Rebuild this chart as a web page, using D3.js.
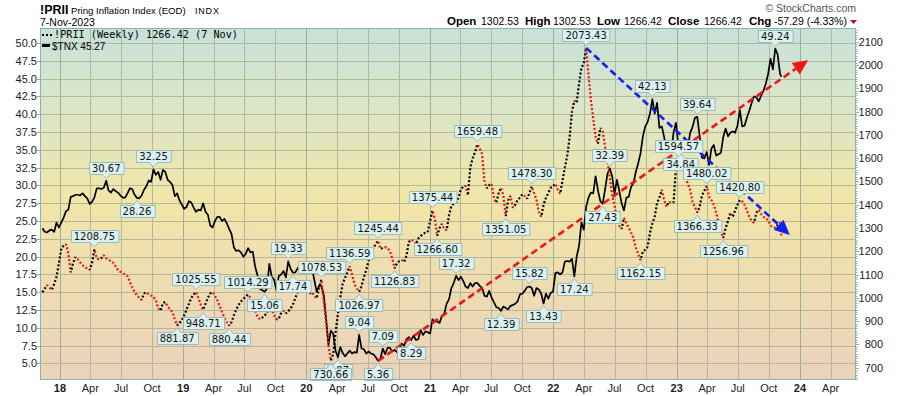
<!DOCTYPE html>
<html><head><meta charset="utf-8">
<script src="https://cdn.jsdelivr.net/npm/d3@7"></script>
<style>
body{margin:0;background:#fff;}
svg{display:block;font-family:"Liberation Sans",Arial,sans-serif;}
</style></head>
<body><svg id="c" width="900" height="396"></svg>
<script>
// ---------- DATA ----------
const firstWeek = "2017-11-10";      // weekly closes (Fridays)
const lastDate = "2023-11-07";       // last (partial) week
// !PRII weekly (right axis)
const prii = [
 1024,1040,1055,1045,1034,1060,1090,1150,1210,1225,
 1231,1190,1110,1150,1176,1165,1152,1140,1133,1125,
 1120,1149,1208.75,1170,1165,1171,1184,1170,1163,1158,
 1152,1135,1120,1112,1107,1100,1094,1070,1045,1025,
 1012,1000,991,1020,1024,1015,1010,1005,990,955,
 945,978,982,963,950,940,910,881.87,892,905,
 925,950,975,1000,1015,1025.55,1000,970,948.71,975,
 1000,1020,1025,1010,990,965,940,915,895,880.44,
 895,925,950,970,985,995,1005,1014.29,1000,975,
 945,920,908,915,925,933,972,950,925,908,
 910,935,945,933,942,955,972,1000,1025,1036,
 1040,1035,1025,1019,1025,1010,998,1040,1078.53,985,
 900,800,730.66,760,850,931,1000,1060,1085,1110,
 1136.59,1100,1060,1040,1026.97,1050,1090,1120,1160,1190,
 1215,1230,1245.44,1210,1215,1218,1214,1200,1170,1126.83,
 1150,1158,1163,1154,1180,1240,1250,1245,1230,1255,
 1265,1275,1280,1283,1330,1375.44,1340,1266.60,1300,1318,
 1295,1290,1355,1395,1405,1408,1430,1465,1478,1481,
 1440,1560,1600,1625,1659.48,1640,1619,1500,1470,1485,
 1490,1430,1408,1450,1473,1440,1351.05,1420,1438,1387,
 1400,1420,1430,1445,1438,1425,1450,1478.30,1450,1421,
 1370,1348,1400,1430,1450,1473,1480,1490,1465,1447,
 1503,1560,1610,1688,1800,1847,1838,1920,1988,2006,
 2073.43,1960,1850,1770,1690,1662,1730,1717,1650,1589,
 1516,1440,1400,1331,1310,1296,1344,1320,1301,1280,
 1258,1215,1190,1162.15,1200,1206,1219,1280,1320,1348,
 1408,1430,1464,1420,1391,1413,1408,1410,1560,1594.57,
 1585,1562,1520,1490,1464,1413,1390,1366.33,1391,1440,
 1460,1480.02,1434,1420,1400,1366,1320,1290,1256.96,1300,
 1330,1366,1348,1375,1400,1420.80,1415,1400,1375,1348,
 1330,1322,1366,1378,1360,1348,1340,1335,1310,1305,
 1300,1313,1323.71,1266.42
];
// $TNX weekly (left axis), by year
const tnx2017 = [24.0,23.5,23.4,23.7,23.8,23.5,24.8,24.1];
const tnx2018 = [24.8,25.5,26.4,26.6, 28.4,28.5,28.7,28.7, 28.6,28.9,28.5,28.2,27.4, 27.7,28.3,29.6,29.6,
 29.5,29.7,30.67,29.3, 29.0,29.5,29.2,29.0,28.6, 28.3,28.3,28.9,29.6, 29.5,28.7,28.26,28.2,28.6,
 29.4,29.9,30.7,30.5, 32.25,31.5,31.9,30.8, 32.2,31.9,30.8,30.5,30.1, 28.5,28.9,27.9,27.3];
const tnx2019 = [26.7,27.0,27.8,27.6, 26.9,26.3,26.6,26.5, 27.5,26.3,25.9,24.4,24.1, 25.0,25.6,25.6,25.0,
 25.3,24.7,23.9,23.2,21.3, 20.8,20.9,20.6,20.0, 20.4,21.2,20.6,20.7, 18.6,17.4,15.5,15.3,15.06,
 15.5,19.0,17.2,16.8, 15.3,17.3,17.5,18.0, 17.1,19.33,18.3,17.74,17.8, 18.4,18.2,19.2,18.8];
const tnx2020 = [18.0,18.2,18.4,16.8,15.1, 15.9,15.9,14.7,11.3, 7.6,9.6,9.2,6.8, 5.87,7.3,6.5,6.0,
 6.4,6.8,6.4,6.6,6.5, 9.04,7.1,7.0,6.4, 6.7,6.4,6.3,5.9,5.36, 5.7,7.09,6.3,7.2,
 7.2,6.7,6.9,6.6, 7.0,7.8,7.5,8.4,8.7, 8.29,8.9,8.3,8.4, 9.7,9.0,9.5,9.4];
const tnx2021 = [9.2,11.2,10.9,10.9,10.7, 11.7,12.0,13.4,14.0, 15.6,16.3,17.32,16.7, 17.2,16.6,15.8,15.6,16.3,
 15.8,16.3,16.3,15.9, 15.6,14.5,14.4,15.2, 14.3,13.6,12.9,12.8,12.39, 13.0,12.8,12.6,13.1,
 13.2,13.4,13.7,14.7, 14.8,15.2,15.7,15.82,15.6, 14.5,15.6,15.4,14.8, 13.43,14.8,14.1,14.9,15.1];
const tnx2022 = [17.7,17.8,17.5,17.8, 19.3,19.4,19.3,19.7, 17.24,20.0,21.5,24.8, 23.8,27.0,28.3,29.0,28.9,
 31.3,29.3,27.8,27.43, 29.4,31.6,32.39,31.3, 28.8,30.8,29.3,27.5,26.5, 28.3,28.4,29.8,30.3,
 31.9,33.1,34.5,36.9,38.3, 38.9,40.1,42.13,40.1, 41.6,38.1,38.3,36.8, 34.9,35.8,34.8,37.5,38.8];
const tnx2023 = [35.6,34.84,34.8,35.1, 35.3,37.4,38.2,39.5, 39.64,37.0,33.9,33.8,34.7, 32.9,35.2,35.7,34.2,
 34.4,34.6,36.8,38.0, 36.9,37.4,37.6,37.4,38.4, 40.6,38.3,38.4,39.5, 40.5,41.6,42.5,42.4,
 41.8,42.6,43.3,44.3,45.7, 47.8,46.3,49.24,48.4, 45.7,45.27];

// annotation callouts: [date, position]
const tnxNotes = [
 ["2018-05-18","above"],["2018-10-05","above"],["2018-08-17","below"],["2019-11-08","above"],
 ["2019-08-30","below"],["2019-11-22","below"],["2020-04-03","below"],["2020-06-05","above"],["2020-07-31","below"],
 ["2020-08-14","above"],["2020-11-06","below"],["2021-03-19","above"],["2021-07-30","below"],
 ["2021-10-22","above"],["2021-12-03","below"],["2022-03-04","below"],["2022-05-27","below"],
 ["2022-06-17","above"],["2022-10-21","above"],["2023-01-13","below"],["2023-03-03","above"],
 ["2023-10-20","above"]
];
const priiNotes = [
 ["2018-04-13","above"],["2018-12-14","below"],["2019-02-08","above"],["2019-03-01","below"],
 ["2019-05-17","below"],["2019-07-12","above"],["2020-02-14","above"],["2020-03-13","below"],
 ["2020-05-08","above"],["2020-06-05","below"],["2020-07-31","above"],["2020-09-18","below"],
 ["2021-01-08","above"],["2021-01-22","below"],["2021-05-21","above"],["2021-08-13","below"],
 ["2021-10-29","above"],["2022-04-08","above"],["2022-09-16","below"],["2023-01-06","above"],
 ["2023-03-03","below"],["2023-03-31","above"],["2023-05-19","below"],["2023-07-07","above"]
];
// hand-drawn trend lines
const redTrendDates = ["2020-07-31","2024-01-25"], redTrendTnx = [5.36, 47.6];
const blueTrendDates = ["2022-04-08","2023-12-02"], blueTrendPrii = [2073.43, 1270];

const leftTicks = [5,7.5,10,12.5,15,17.5,20,22.5,25,27.5,30,32.5,35,37.5,40,42.5,45,47.5,50];
const rightTicks = [700,800,900,1000,1100,1200,1300,1400,1500,1600,1700,1800,1900,2000,2100];
const monthNames = ["Jan","Feb","Mar","Apr","May","Jun","Jul","Aug","Sep","Oct","Nov","Dec"];
const header = {open:"1302.53", high:"1302.53", low:"1266.42", close:"1266.42", chg:"-57.29 (-4.33%)"};

// ---------- BUILD ----------
const tnx = [].concat(tnx2017,tnx2018,tnx2019,tnx2020,tnx2021,tnx2022,tnx2023);
const WEEK = 7*864e5;
const t0 = new Date(firstWeek+"T00:00:00Z").getTime();
const dates = prii.map((d,i)=> i===prii.length-1 ? new Date(lastDate+"T00:00:00Z") : new Date(t0+i*WEEK));
const idxOf = s => Math.round((new Date(s+"T00:00:00Z").getTime()-t0)/WEEK);

const L=40,R=856,T=28,B=380;
const x = d3.scaleUtc().domain([new Date(Date.UTC(2017,10,3)), new Date(Date.UTC(2024,5,15))]).range([L,R]);
const yL = d3.scaleLinear().domain([2.68,52.12]).range([B,T]);
const yR = d3.scaleLinear().domain([647.5,2158.8]).range([B,T]);

const svg = d3.select("#c");
const defs = svg.append("defs");
const grad = defs.append("linearGradient").attr("id","bg").attr("x1",0).attr("y1",0).attr("x2",0).attr("y2",1);
[[0,"#c6e2db"],[0.22,"#dbe5c8"],[0.48,"#f1e6a8"],[0.75,"#eedbb2"],[1,"#ebd2bc"]].forEach(s=>
  grad.append("stop").attr("offset",s[0]).attr("stop-color",s[1]));
defs.append("clipPath").attr("id","clip").append("rect").attr("x",L).attr("y",T).attr("width",R-L).attr("height",B-T);

svg.append("rect").attr("x",L).attr("y",T).attr("width",R-L).attr("height",B-T).attr("fill","url(#bg)");

// grid
const grid = svg.append("g").attr("clip-path","url(#clip)");
leftTicks.forEach(v=>grid.append("line").attr("x1",L).attr("x2",R).attr("y1",Math.round(yL(v))+0.5).attr("y2",Math.round(yL(v))+0.5)
  .attr("stroke","#b4b89b").attr("stroke-width",1));
const qTicks = d3.utcMonth.every(3).range(new Date(Date.UTC(2018,0,1)), new Date(Date.UTC(2024,5,15)));
qTicks.forEach(d=>grid.append("line").attr("x1",Math.round(x(d))+0.5).attr("x2",Math.round(x(d))+0.5).attr("y1",T).attr("y2",B)
  .attr("stroke", d.getUTCMonth()===0 ? "#9fae94" : "#b4b89b").attr("stroke-width",1));

const plot = svg.append("g").attr("clip-path","url(#clip)");
// TNX solid line
plot.append("path").datum(tnx).attr("fill","none").attr("stroke","#000").attr("stroke-width",1.7)
  .attr("stroke-linejoin","round")
  .attr("d", d3.line().x((d,i)=>x(dates[i])).y(d=>yL(d)));
// PRII dotted line, black up / red down
let cum=0;
for(let i=1;i<prii.length;i++){
  const x0=x(dates[i-1]),y0=yR(prii[i-1]),x1=x(dates[i]),y1=yR(prii[i]);
  const len=Math.hypot(x1-x0,y1-y0);
  plot.append("line").attr("x1",x0).attr("y1",y0).attr("x2",x1).attr("y2",y1)
    .attr("stroke", prii[i]>=prii[i-1] ? "#000" : "#ee1111").attr("stroke-width",2.2)
    .attr("stroke-dasharray","2,2").attr("stroke-dashoffset", cum%4);
  cum+=len;
}

// trend lines with arrow heads
function trend(ds, vs, scale, color){
  const p0=[x(new Date(ds[0]+"T00:00:00Z")), scale(vs[0])];
  const p1=[x(new Date(ds[1]+"T00:00:00Z")), scale(vs[1])];
  const ang=Math.atan2(p1[1]-p0[1],p1[0]-p0[0]);
  const hl=15, hw=7;
  const bx=p1[0]-hl*Math.cos(ang), by=p1[1]-hl*Math.sin(ang);
  svg.append("line").attr("x1",p0[0]).attr("y1",p0[1]).attr("x2",bx).attr("y2",by)
    .attr("stroke",color).attr("stroke-width",2.6).attr("stroke-dasharray","7,4");
  svg.append("path").attr("d",`M${p1[0]},${p1[1]}L${bx+hw*Math.sin(ang)},${by-hw*Math.cos(ang)}L${bx-hw*Math.sin(ang)},${by+hw*Math.cos(ang)}Z`)
    .attr("fill",color);
}
trend(redTrendDates, redTrendTnx, yL, "#f01414");
trend(blueTrendDates, blueTrendPrii, yR, "#1020f0");

// callouts
const notesG = svg.append("g");
function callout(px,py,txt,pos){
  const g=notesG.append("g");
  const t=g.append("text").text(txt).attr("font-size",10).attr("font-family","'DejaVu Sans',Verdana,sans-serif")
    .attr("text-anchor","middle").attr("fill","#111");
  const w=t.node().getComputedTextLength()+6, h=12;
  const bx=Math.round(px-w/2)+0.5;
  const above = pos==="above";
  const by = above ? Math.round(py-7-h)+0.5 : Math.round(py+7)+0.5;
  let d;
  if(above){
    d=`M${bx},${by}h${w}v${h}H${px+4}L${px},${py-2.5}L${px-4},${by+h}H${bx}Z`;
  } else {
    d=`M${bx},${by}H${px-4}L${px},${py+2.5}L${px+4},${by}H${bx+w}v${h}H${bx}Z`;
  }
  g.insert("path","text").attr("d",d).attr("fill","#dcf1ef").attr("stroke","#98bcbc").attr("stroke-width",1);
  t.attr("x",px).attr("y",by+h/2+3.6);
}
tnxNotes.forEach(n=>{const i=idxOf(n[0]); callout(x(dates[i]),yL(tnx[i]),tnx[i].toFixed(2),n[1]);});
priiNotes.forEach(n=>{const i=idxOf(n[0]); callout(x(dates[i]),yR(prii[i]),prii[i].toFixed(2),n[1]);});

// frame
svg.append("rect").attr("x",L+0.5).attr("y",T+0.5).attr("width",R-L-1).attr("height",B-T-1)
  .attr("fill","none").attr("stroke","#8fb0b2").attr("stroke-width",1);

// left axis
const la=svg.append("g");
leftTicks.forEach(v=>{
  const y=Math.round(yL(v))+0.5;
  la.append("line").attr("x1",L-3).attr("x2",L).attr("y1",y).attr("y2",y).attr("stroke","#8fb0b2");
  la.append("text").attr("x",L-3).attr("y",y+3.8).attr("text-anchor","end").attr("font-size",11).attr("fill","#222").text(v.toFixed(1));
});
// right axis
const ra=svg.append("g");
d3.range(650,2160,10).forEach(v=>{
  const y=Math.round(yR(v))+0.5;
  const major = v%100===0;
  ra.append("line").attr("x1",R).attr("x2",R+(major?3:1.5)).attr("y1",y).attr("y2",y).attr("stroke","#8fb0b2");
});
rightTicks.forEach(v=>{
  ra.append("text").attr("x",883).attr("y",Math.round(yR(v))+4).attr("text-anchor","end").attr("font-size",11).attr("fill","#222").text(v);
});
// bottom axis
const ba=svg.append("g");
qTicks.forEach(d=>{
  const m=d.getUTCMonth();
  ba.append("text").attr("x",x(d)).attr("y",392).attr("text-anchor","middle").attr("font-size",11)
    .attr("font-weight", m===0?"bold":"normal").attr("fill","#222")
    .text(m===0 ? String(d.getUTCFullYear()).slice(2) : monthNames[m]);
});

// legend
const lg=svg.append("g");
lg.append("line").attr("x1",42).attr("x2",52).attr("y1",35).attr("y2",35).attr("stroke","#000").attr("stroke-width",2).attr("stroke-dasharray","2,2");
lg.append("text").attr("x",54).attr("y",38).attr("font-size",10.2).attr("font-family","'DejaVu Sans Mono',monospace").attr("fill","#000")
  .text("!PRII (Weekly) "+prii[prii.length-1].toFixed(2)+" (7 Nov)");
lg.append("line").attr("x1",42).attr("x2",50).attr("y1",45.5).attr("y2",45.5).attr("stroke","#000").attr("stroke-width",3);
lg.append("text").attr("x",52).attr("y",50).attr("font-size",10).attr("fill","#000").text("$TNX "+tnx[tnx.length-1].toFixed(2));

// header
const hd=svg.append("g").attr("fill","#000");
hd.append("text").attr("x",40).attr("y",14).attr("font-size",12.5).attr("font-weight","bold").text("!PRII");
hd.append("text").attr("x",71).attr("y",14).attr("font-size",9.6).text("Pring Inflation Index (EOD)");
hd.append("text").attr("x",195).attr("y",14).attr("font-size",9).attr("letter-spacing",0.8).text("INDX");
hd.append("text").attr("x",40).attr("y",26).attr("font-size",10.5).text("7-Nov-2023");
const hparts=[["Open",true,447],[header.open,false,481],["High",true,525],[header.high,false,553],["Low",true,597],[header.low,false,624],
  ["Close",true,668],[header.close,false,704],["Chg",true,749],[header.chg,false,774]];
hparts.forEach(p=>hd.append("text").attr("x",p[2]).attr("y",25).attr("font-size",p[1]?11.5:10.5).attr("font-weight",p[1]?"bold":"normal").text(p[0]));
hd.append("path").attr("d","M850,20L857,20L853.5,24Z").attr("fill","#b0103a");
svg.append("text").attr("x",856).attr("y",12).attr("text-anchor","end").attr("font-size",10.5).attr("fill","#555").text("\u00A9 StockCharts.com");
</script></body></html>
